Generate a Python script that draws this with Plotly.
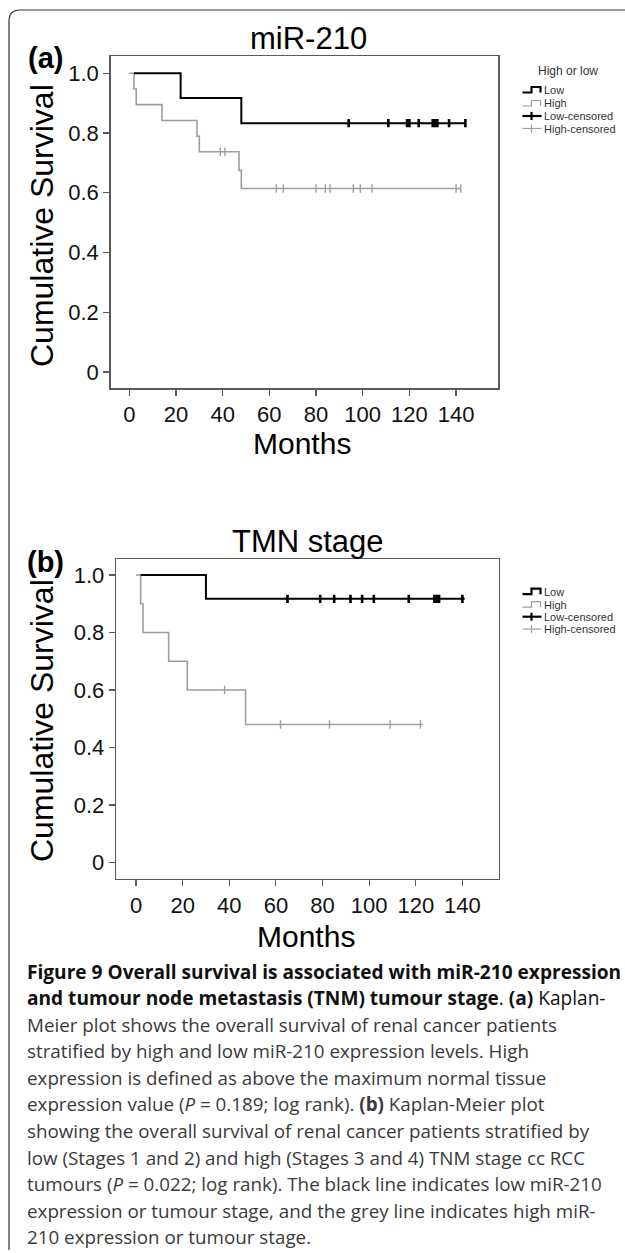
import plotly.graph_objects as go

W, H = 625, 1253

# ---------------- data ----------------
# Panel (a): miR-210, step curves (time in months, cumulative survival)
a_low_time = [2, 22, 48, 144]
a_low_surv = [1.0, 0.917, 0.833, 0.833]
a_low_cens_time = [94, 111, 119, 120, 124, 130, 131, 132, 137, 144]
a_low_cens_surv = [0.833, 0.833, 0.833, 0.833, 0.833, 0.833, 0.833, 0.833, 0.833, 0.833]

a_high_time = [0, 2, 3, 14, 29, 30, 47, 48, 142]
a_high_surv = [1.0, 0.947, 0.895, 0.842, 0.789, 0.737, 0.675, 0.614, 0.614]
a_high_cens_time = [39, 41, 63, 66, 80, 84, 86, 96, 99, 104, 140, 142]
a_high_cens_surv = [0.737, 0.737, 0.614, 0.614, 0.614, 0.614, 0.614, 0.614, 0.614, 0.614, 0.614, 0.614]

# Panel (b): TMN stage
b_low_time = [2, 30, 141]
b_low_surv = [1.0, 0.917, 0.917]
b_low_cens_time = [65, 79, 85, 92, 97, 102, 117, 128, 129, 130, 140]
b_low_cens_surv = [0.917, 0.917, 0.917, 0.917, 0.917, 0.917, 0.917, 0.917, 0.917, 0.917, 0.917]

b_high_time = [0, 2, 3, 14, 22, 47, 123]
b_high_surv = [1.0, 0.9, 0.8, 0.7, 0.6, 0.48, 0.48]
b_high_cens_time = [38, 62, 83, 109, 122]
b_high_cens_surv = [0.6, 0.48, 0.48, 0.48, 0.48]

x_tickvals = [0, 20, 40, 60, 80, 100, 120, 140]
y_tickvals = [0, 0.2, 0.4, 0.6, 0.8, 1.0]
y_ticktext = ["0", "0.2", "0.4", "0.6", "0.8", "1.0"]

panel_titles = ["miR-210", "TMN stage"]
panel_letters = ["(a)", "(b)"]
legend_title = "High or low"
legend_labels = ["Low", "High", "Low-censored", "High-censored"]

caption_lines = [
    "<b>Figure 9 Overall survival is associated with miR-210 expression</b>",
    "<b>and tumour node metastasis (TNM) tumour stage</b>. <b>(a)</b> Kaplan-",
    "Meier plot shows the overall survival of renal cancer patients",
    "stratified by high and low miR-210 expression levels. High",
    "expression is defined as above the maximum normal tissue",
    "expression value (<i>P</i> = 0.189; log rank). <b>(b)</b> Kaplan-Meier plot",
    "showing the overall survival of renal cancer patients stratified by",
    "low (Stages 1 and 2) and high (Stages 3 and 4) TNM stage cc RCC",
    "tumours (<i>P</i> = 0.022; log rank). The black line indicates low miR-210",
    "expression or tumour stage, and the grey line indicates high miR-",
    "210 expression or tumour stage.",
]

# ---------------- styling ----------------
BLACK = "#000000"
GREY = "#9e9e9e"
FRAME = "#5a5a5a"
CHART_FONT = "Liberation Sans, Arial, sans-serif"
CAP_FONT = "Open Sans, Noto Sans, sans-serif"


def px(x):
    return x / W


def py(y):
    return 1 - y / H


fig = go.Figure()

panels = [
    dict(xa="x", ya="y",
         low=(a_low_time, a_low_surv, a_low_cens_time, a_low_cens_surv),
         high=(a_high_time, a_high_surv, a_high_cens_time, a_high_cens_surv)),
    dict(xa="x2", ya="y2",
         low=(b_low_time, b_low_surv, b_low_cens_time, b_low_cens_surv),
         high=(b_high_time, b_high_surv, b_high_cens_time, b_high_cens_surv)),
]

for p in panels:
    ht, hs, hct, hcs = p["high"]
    lt, ls, lct, lcs = p["low"]
    fig.add_trace(go.Scatter(x=ht, y=hs, mode="lines", line=dict(color=GREY, width=1.6, shape="hv"),
                             xaxis=p["xa"], yaxis=p["ya"], showlegend=False, hoverinfo="skip"))
    fig.add_trace(go.Scatter(x=hct, y=hcs, mode="markers",
                             marker=dict(symbol="line-ns", size=6, line=dict(color=GREY, width=1.4)),
                             xaxis=p["xa"], yaxis=p["ya"], showlegend=False, hoverinfo="skip"))
    fig.add_trace(go.Scatter(x=lt, y=ls, mode="lines", line=dict(color=BLACK, width=2, shape="hv"),
                             xaxis=p["xa"], yaxis=p["ya"], showlegend=False, hoverinfo="skip"))
    fig.add_trace(go.Scatter(x=lct, y=lcs, mode="markers",
                             marker=dict(symbol="line-ns", size=6, line=dict(color=BLACK, width=2.6)),
                             xaxis=p["xa"], yaxis=p["ya"], showlegend=False, hoverinfo="skip"))

# panel geometry in pixels: (left, right, top, bottom), x-range, y-range
geo = [
    dict(l=110.5, r=498.3, t=56, b=388.3, xr=[-8.05, 158.1], yr=[-0.0546, 1.0577]),
    dict(l=116.0, r=499.0, t=559.3, b=879.0, xr=[-8.58, 155.7], yr=[-0.0574, 1.0546]),
]

axis_common = dict(showgrid=False, zeroline=False, showline=True, mirror=True,
                   linecolor=FRAME, linewidth=1.3, ticks="outside", ticklen=6,
                   tickwidth=1.2, tickcolor=FRAME,
                   tickfont=dict(family=CHART_FONT, size=22, color="#111"))

layout_axes = {}
for i, g in enumerate(geo):
    sfx = "" if i == 0 else str(i + 1)
    layout_axes["xaxis" + sfx] = dict(axis_common, domain=[px(g["l"]), px(g["r"])], range=g["xr"],
                                      tickvals=x_tickvals, anchor="y" + sfx)
    layout_axes["yaxis" + sfx] = dict(axis_common, domain=[py(g["b"]), py(g["t"])], range=g["yr"],
                                      tickvals=y_tickvals, ticktext=y_ticktext, anchor="x" + sfx)

annotations = []
shapes = []

title_y = [38, 541]
months_y = [443, 936]
letter_y = [58, 562]
ylab_y = [226, 721]
for i, g in enumerate(geo):
    cx = (g["l"] + g["r"]) / 2
    annotations.append(dict(x=px(308), y=py(title_y[i]), xref="paper", yref="paper", text=panel_titles[i],
                            showarrow=False, xanchor="center", yanchor="middle",
                            font=dict(family=CHART_FONT, size=31, color="#000")))
    annotations.append(dict(x=px(cx - 2), y=py(months_y[i]), xref="paper", yref="paper", text="Months",
                            showarrow=False, xanchor="center", yanchor="middle",
                            font=dict(family=CHART_FONT, size=30, color="#000")))
    annotations.append(dict(x=px(45), y=py(letter_y[i]), xref="paper", yref="paper",
                            text="<b>" + panel_letters[i] + "</b>",
                            showarrow=False, xanchor="center", yanchor="middle",
                            font=dict(family=CHART_FONT, size=29, color="#000")))
    annotations.append(dict(x=px(42), y=py(ylab_y[i]), xref="paper", yref="paper",
                            text="Cumulative Survival", textangle=-90,
                            showarrow=False, xanchor="center", yanchor="middle",
                            font=dict(family=CHART_FONT, size=32, color="#000")))

# manual legends (step-shaped keys like the original)
leg_rows = [[90, 103.5, 116, 128.5], [591.7, 604.7, 616.7, 629]]
for i, rows in enumerate(leg_rows):
    if i == 0:
        annotations.append(dict(x=px(568), y=py(71), xref="paper", yref="paper", text=legend_title,
                                showarrow=False, xanchor="center", yanchor="middle",
                                font=dict(family=CHART_FONT, size=12, color="#333")))
    x0, x1 = 522.5, 541.5
    for j, yy in enumerate(rows):
        col = BLACK if j % 2 == 0 else GREY
        w = 2.2 if j % 2 == 0 else 1.2
        if j < 2:
            path = "M {} {} L {} {} L {} {} L {} {} L {} {}".format(
                px(x0), py(yy + 2.5), px(x0 + 9), py(yy + 2.5), px(x0 + 9), py(yy - 3),
                px(x1 - 1), py(yy - 3), px(x1 - 1), py(yy + 2.5))
            shapes.append(dict(type="path", path=path, xref="paper", yref="paper",
                               line=dict(color=col, width=w)))
        else:
            shapes.append(dict(type="line", x0=px(x0), x1=px(x1), y0=py(yy), y1=py(yy),
                               xref="paper", yref="paper", line=dict(color=col, width=w)))
            shapes.append(dict(type="line", x0=px(x0 + 9), x1=px(x0 + 9), y0=py(yy - 4), y1=py(yy + 4),
                               xref="paper", yref="paper", line=dict(color=col, width=w)))
        annotations.append(dict(x=px(542), y=py(yy), xref="paper", yref="paper", text=legend_labels[j],
                                showarrow=False, xanchor="left", yanchor="middle",
                                font=dict(family=CHART_FONT, size=11, color="#333")))

# page border (top and left with rounded corner)
border = "M {} {} L {} {} Q {} {} {} {} L {} {}".format(
    px(9), py(1250), px(9), py(21), px(9), py(10), px(20), py(10), px(625), py(10))
shapes.append(dict(type="path", path=border, xref="paper", yref="paper",
                   line=dict(color="#333", width=1.2)))

# caption
for k, line in enumerate(caption_lines):
    bold_line = k < 2
    annotations.append(dict(x=px(25), y=py(971.7 + 26.55 * k), xref="paper", yref="paper", text=line,
                            showarrow=False, xanchor="left", yanchor="middle",
                            font=dict(family=CAP_FONT, size=19.1 if bold_line else 18.8,
                                      color="#111" if bold_line else "#3a3a3a")))

fig.update_layout(
    width=W, height=H, margin=dict(l=0, r=0, t=0, b=0),
    paper_bgcolor="white", plot_bgcolor="white",
    showlegend=False, annotations=annotations, shapes=shapes,
    **layout_axes,
)

fig.write_html("out.html", config={"displayModeBar": False, "staticPlot": True},
               post_script="document.body.style.margin='0';document.body.style.padding='0';"
                           "document.body.style.overflow='hidden';")
